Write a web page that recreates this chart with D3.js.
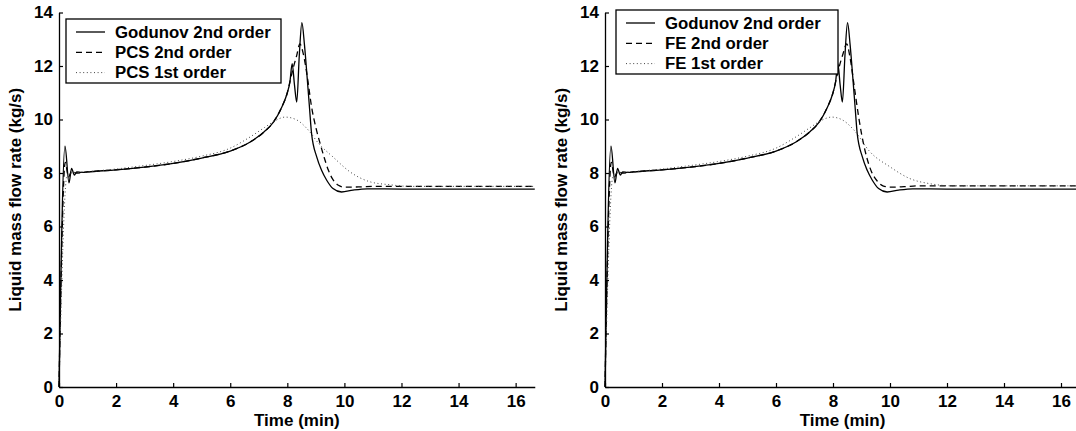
<!DOCTYPE html>
<html>
<head>
<meta charset="utf-8">
<script src="https://cdn.jsdelivr.net/npm/d3@7"></script>
<style>
  body { margin: 0; background: #fff; }
  svg { display: block; font-family: "Liberation Sans", Arial, Helvetica, sans-serif; font-weight: bold; }
</style>
</head>
<body>
<div id="chart"></div>
<script>
// [time (min), liquid mass flow rate (kg/s)]
const godunov = [[0,0],[0.21,9.0],[0.35,7.63],[0.44,8.17],[0.54,7.92],[0.62,8.04],[0.8,8.02],[1,8.04],[2,8.12],[3,8.22],[4,8.36],[5,8.56],[6,8.82],[6.7,9.16],[7.2,9.55],[7.5,9.88],[7.8,10.45],[8.0,11.0],[8.09,11.4],[8.17,12.09],[8.25,11.3],[8.33,10.65],[8.42,12.4],[8.51,13.62],[8.6,12.8],[8.7,11.5],[8.78,10.4],[8.85,9.47],[9.03,8.6],[9.2,8.1],[9.38,7.73],[9.6,7.42],[9.9,7.29],[10.3,7.36],[10.8,7.41],[12,7.4],[16.67,7.4]];

const pcs2 = [[0,0],[0.22,8.4],[0.33,7.85],[0.45,8.08],[0.6,8.0],[1,8.04],[2,8.12],[3,8.22],[4,8.36],[5,8.56],[6,8.82],[6.7,9.16],[7.2,9.55],[7.5,9.88],[7.8,10.45],[8.0,11.0],[8.1,11.45],[8.2,11.9],[8.33,12.4],[8.44,12.83],[8.55,12.5],[8.7,11.6],[8.85,10.47],[9.0,9.7],[9.15,9.1],[9.3,8.55],[9.44,8.1],[9.6,7.75],[9.79,7.54],[10.0,7.47],[10.5,7.48],[11,7.5],[16.67,7.5]];

const pcs1 = [[0,0],[0.28,7.9],[0.45,8.0],[1,8.05],[2,8.15],[3,8.28],[4,8.43],[5,8.63],[6,8.93],[6.7,9.35],[7.2,9.7],[7.6,9.97],[7.92,10.09],[8.3,10.0],[8.74,9.6],[9.1,9.1],[9.6,8.6],[10.2,8.04],[10.9,7.67],[11.6,7.56],[12.3,7.5],[16.67,7.5]];

const fe2 = [[0,0],[0.22,8.4],[0.33,7.85],[0.45,8.08],[0.6,8.0],[1,8.04],[2,8.12],[3,8.22],[4,8.36],[5,8.56],[6,8.82],[6.7,9.16],[7.2,9.55],[7.5,9.88],[7.8,10.45],[8.0,11.0],[8.1,11.45],[8.2,11.9],[8.35,12.45],[8.48,12.83],[8.6,12.3],[8.75,11.2],[8.9,10.1],[9.0,9.47],[9.18,8.6],[9.35,8.05],[9.55,7.7],[9.75,7.52],[10.0,7.47],[10.5,7.49],[11,7.52],[16.67,7.52]];

const fe1 = [[0,0],[0.28,7.9],[0.45,8.0],[1,8.05],[2,8.15],[3,8.28],[4,8.43],[5,8.63],[6,8.93],[6.7,9.35],[7.2,9.7],[7.6,9.97],[7.95,10.09],[8.3,10.0],[8.74,9.6],[9.3,8.79],[10.0,8.23],[10.7,7.79],[11.4,7.6],[12.2,7.52],[16.67,7.52]];

const xTicks = [0, 2, 4, 6, 8, 10, 12, 14, 16];
const yTicks = [0, 2, 4, 6, 8, 10, 12, 14];
const xMax = 16.67, yMax = 14;

const width = 1076, height = 431;

const svg = d3.select("#chart").append("svg")
    .attr("width", width)
    .attr("height", height)
    .attr("viewBox", [0, 0, width, height]);

const styles = {
    solid: { dash: null, color: "#000", w: 1.3 },
    dashed: { dash: "6,4", color: "#000", w: 1.3 },
    dotted: { dash: "1,2.6", color: "#444", w: 1 }
};

const drawPanel = ({ left, right, top, bottom, series, legendBox }) => {
    const x = d3.scaleLinear().domain([0, xMax]).range([left, right]);
    const y = d3.scaleLinear().domain([0, yMax]).range([bottom, top]);

    const g = svg.append("g");

    const line = d3.line()
        .x(d => x(d[0]))
        .y(d => y(d[1]))
        .curve(d3.curveMonotoneX);

    g.selectAll("path.series")
        .data(series)
        .join("path")
        .attr("class", "series")
        .attr("d", d => line(d.values))
        .attr("fill", "none")
        .attr("stroke", d => styles[d.style].color)
        .attr("stroke-width", d => styles[d.style].w)
        .attr("stroke-dasharray", d => styles[d.style].dash);

    // axes: ticks point inward, no box
    const xAxis = g.append("g")
        .attr("transform", `translate(0,${bottom})`)
        .call(d3.axisBottom(x).tickValues(xTicks).tickSizeInner(-4).tickSizeOuter(0).tickPadding(8));
    const yAxis = g.append("g")
        .attr("transform", `translate(${left},0)`)
        .call(d3.axisLeft(y).tickValues(yTicks).tickSizeInner(-4).tickSizeOuter(0).tickPadding(6));

    [xAxis, yAxis].forEach(a => {
        a.selectAll("path").attr("stroke", "#000").attr("stroke-width", 1.3);
        a.selectAll("line").attr("stroke", "#000").attr("stroke-width", 1.2);
        a.selectAll("text")
            .attr("fill", "#000")
            .style("font-size", "17px")
            .style("font-weight", "bold");
    });

    g.append("text")
        .attr("x", (left + Math.min(right, left + 476)) / 2)
        .attr("y", 426)
        .attr("text-anchor", "middle")
        .style("font-size", "17px")
        .text("Time (min)");

    g.append("text")
        .attr("transform", `translate(${left - 38},${(top + bottom) / 2}) rotate(-90)`)
        .attr("text-anchor", "middle")
        .style("font-size", "17px")
        .text("Liquid mass flow rate (kg/s)");

    // legend
    const lg = g.append("g");
    lg.append("rect")
        .attr("x", legendBox.x).attr("y", legendBox.y)
        .attr("width", legendBox.w).attr("height", legendBox.h)
        .attr("fill", "#fff").attr("stroke", "#000").attr("stroke-width", 1.3);

    const rows = lg.selectAll("g.row")
        .data(series)
        .join("g")
        .attr("class", "row")
        .attr("transform", (d, i) => `translate(${legendBox.x},${legendBox.y + 13 + i * 20.3})`);

    rows.append("line")
        .attr("x1", 10).attr("x2", 39)
        .attr("y1", 0).attr("y2", 0)
        .attr("stroke", d => styles[d.style].color)
        .attr("stroke-width", d => styles[d.style].w)
        .attr("stroke-dasharray", d => styles[d.style].dash);

    rows.append("text")
        .attr("x", 49)
        .attr("y", 5.8)
        .style("font-size", "16.8px")
        .text(d => d.name);
};

drawPanel({
    left: 59, right: 59 + xMax * 28.54, top: 12.5, bottom: 387,
    series: [
        { name: "Godunov 2nd order", values: godunov, style: "solid" },
        { name: "PCS 2nd order", values: pcs2, style: "dashed" },
        { name: "PCS 1st order", values: pcs1, style: "dotted" }
    ],
    legendBox: { x: 66, y: 19, w: 215, h: 64 }
});

drawPanel({
    left: 605, right: 605 + xMax * 28.5, top: 12.5, bottom: 387,
    series: [
        { name: "Godunov 2nd order", values: godunov, style: "solid" },
        { name: "FE 2nd order", values: fe2, style: "dashed" },
        { name: "FE 1st order", values: fe1, style: "dotted" }
    ],
    legendBox: { x: 616, y: 10, w: 222, h: 64 }
});
</script>
</body>
</html>
